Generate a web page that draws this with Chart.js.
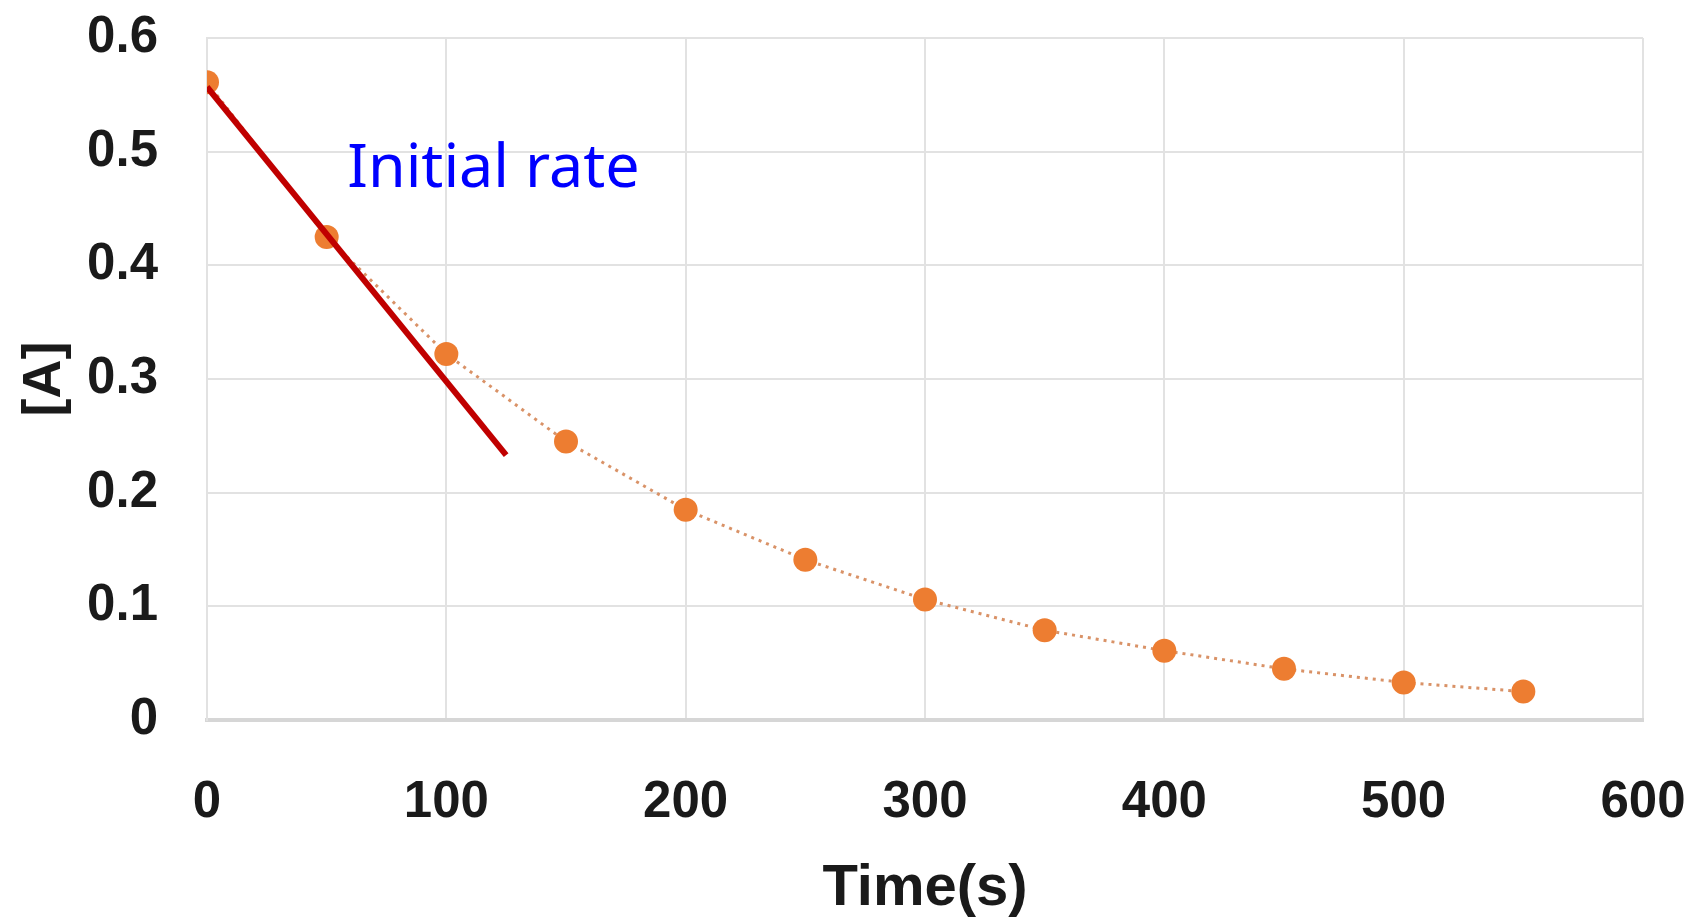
<!DOCTYPE html>
<html>
<head>
<meta charset="utf-8">
<script src="https://cdn.jsdelivr.net/npm/chart.js@4.4.1/dist/chart.umd.min.js"></script>
<style>
  html, body { margin: 0; padding: 0; background: #fff; }
  #wrap { width: 1689px; height: 918px; }
</style>
</head>
<body>
<div id="wrap"><canvas id="rateChart" width="1689" height="918"></canvas></div>
<script>
// measured concentration of A over time
const times = [0, 50, 100, 150, 200, 250, 300, 350, 400, 450, 500, 550];
const concA = [0.561, 0.425, 0.322, 0.245, 0.185, 0.141, 0.106, 0.079, 0.061, 0.045, 0.033, 0.025];

// tangent at t = 0 (initial rate)
const tangentX = [0, 125];
const tangentY = [0.557, 0.233];

const xTicks = [0, 100, 200, 300, 400, 500, 600];
const yTicks = [0, 0.1, 0.2, 0.3, 0.4, 0.5, 0.6];

const noteText = 'Initial rate';
const notePos = [58.6, 0.469];

const tickFont = { family: '"Liberation Sans", sans-serif', size: 51, weight: 'bold' };

const notePlugin = {
  id: 'note',
  afterDatasetsDraw(chart) {
    const { ctx, scales } = chart;
    ctx.save();
    ctx.font = '61px "Noto Sans", sans-serif';
    ctx.fillStyle = '#0000ff';
    ctx.textBaseline = 'alphabetic';
    ctx.fillText(noteText, scales.x.getPixelForValue(notePos[0]), scales.y.getPixelForValue(notePos[1]));
    ctx.restore();
  }
};

new Chart(document.getElementById('rateChart').getContext('2d'), {
  type: 'line',
  data: {
    datasets: [
      {
        label: 'tangent',
        data: tangentX.map((x, i) => ({ x: x, y: tangentY[i] })),
        borderColor: '#c00000',
        borderWidth: 6,
        pointRadius: 0,
        order: 0
      },
      {
        label: '[A]',
        data: times.map((t, i) => ({ x: t, y: concA[i] })),
        borderColor: 'rgba(215,140,95,0.95)',
        borderWidth: 3,
        borderDash: [3, 5],
        pointRadius: 12,
        pointBackgroundColor: '#ED7D31',
        pointBorderColor: '#ED7D31',
        pointBorderWidth: 0,
        order: 1
      }
    ]
  },
  options: {
    responsive: false,
    animation: false,
    layout: { padding: { top: 38, right: 46, left: 0, bottom: 0 } },
    plugins: {
      legend: { display: false },
      tooltip: { enabled: false }
    },
    scales: {
      x: {
        type: 'linear',
        min: 0,
        max: 600,
        afterBuildTicks(scale) { scale.ticks = xTicks.map(v => ({ value: v })); },
        afterFit(scale) {
          scale.height = 198;
          scale.paddingLeft = 0;
          scale.paddingRight = 0;
        },
        grid: { color: '#e2e2e2', lineWidth: 2, drawTicks: false },
        border: { display: true, color: '#d6d6d6', width: 4 },
        ticks: { font: tickFont, color: '#1a1a1a', padding: 52, maxRotation: 0 },
        title: {
          display: true,
          text: 'Time(s)',
          color: '#1a1a1a',
          font: { family: '"Liberation Sans", sans-serif', size: 58, weight: 'bold', lineHeight: 1 },
          padding: { top: 0, bottom: 0 }
        }
      },
      y: {
        type: 'linear',
        min: 0,
        max: 0.6,
        afterBuildTicks(scale) { scale.ticks = yTicks.map(v => ({ value: v })); },
        afterFit(scale) {
          scale.width = 207;
          scale.paddingTop = 0;
          scale.paddingBottom = 0;
        },
        grid: { color: '#e2e2e2', lineWidth: 2, drawTicks: false },
        border: { display: true, color: '#e2e2e2', width: 2 },
        ticks: { font: tickFont, color: '#1a1a1a', padding: 49 },
        title: {
          display: true,
          text: '[A]',
          color: '#1a1a1a',
          font: { family: '"Liberation Sans", sans-serif', size: 54, weight: 'bold', lineHeight: 1 },
          padding: { top: 18, bottom: 0 }
        }
      }
    }
  },
  plugins: [notePlugin]
});
</script>
</body>
</html>
